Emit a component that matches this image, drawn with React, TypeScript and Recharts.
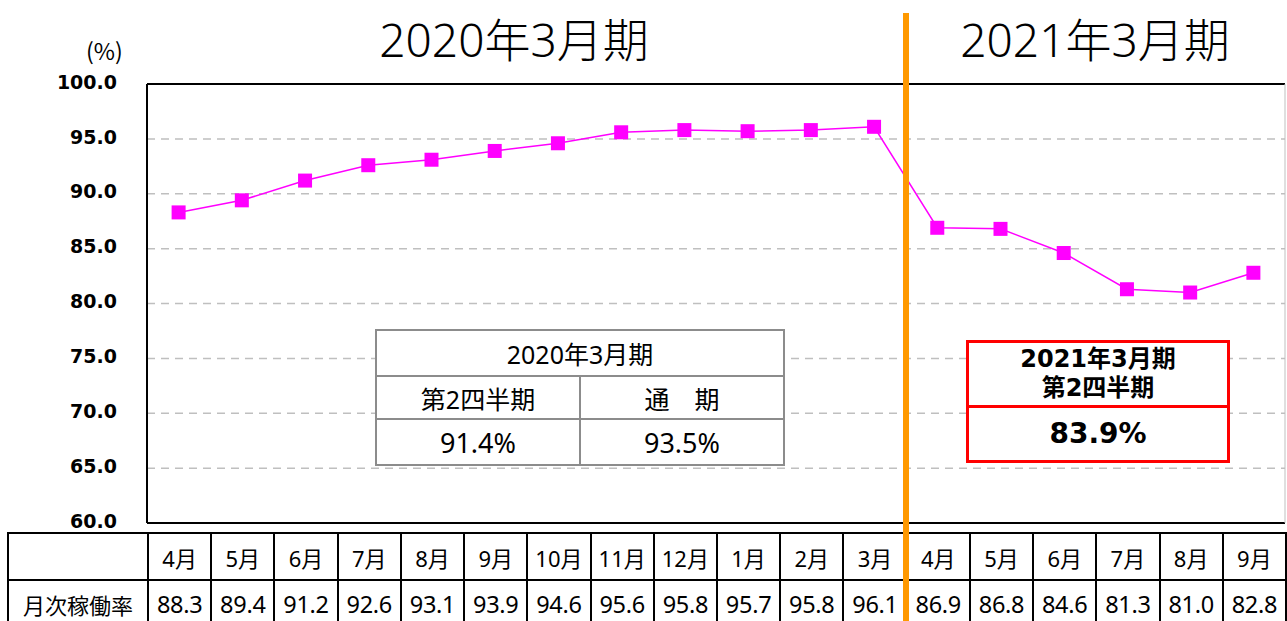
import { ComposedChart, Line, XAxis, YAxis, CartesianGrid, ReferenceLine } from "recharts";

const months = ["4月", "5月", "6月", "7月", "8月", "9月", "10月", "11月", "12月", "1月", "2月", "3月", "4月", "5月", "6月", "7月", "8月", "9月"];
const rates = [88.3, 89.4, 91.2, 92.6, 93.1, 93.9, 94.6, 95.6, 95.8, 95.7, 95.8, 96.1, 86.9, 86.8, 84.6, 81.3, 81.0, 82.8];
const yTicks = [60, 65, 70, 75, 80, 85, 90, 95, 100];
const periodTitles = ["2020年3月期", "2021年3月期"];
const prevHeads = ["第2四半期", "通　期"];
const prevValues = ["91.4%", "93.5%"];
const currTitle = ["2021年3月期", "第2四半期"];
const currValue = "83.9%";

const W = 1287;
const H = 621;
const PLOT_L = 147;
const PLOT_R = 1285;
const PLOT_T = 84;
const PLOT_B = 523;
const COL_W = (PLOT_R - PLOT_L) / months.length;
const FONT = "'Noto Sans', 'Noto Sans CJK JP', sans-serif";
const BOLD_FONT = "'DejaVu Sans', 'Noto Sans CJK JP', sans-serif";

const data = months.map((m, i) => ({ i, month: m, rate: rates[i] }));

function SquareDot(props: any) {
  const { cx, cy, index } = props;
  if (cx == null || cy == null) return null;
  return <rect key={index} x={cx - 7} y={cy - 7} width={14} height={14} fill="#FF00FF" />;
}

const cell: React.CSSProperties = {
  border: "2px solid #000",
  textAlign: "center",
  padding: 0,
  whiteSpace: "nowrap",
};

const greyCell: React.CSSProperties = {
  border: "2px solid #8c8c8c",
  textAlign: "center",
  padding: 0,
};

export default function App() {
  return (
    <div style={{ position: "absolute", left: 0, top: 0, width: W, height: H, overflow: "hidden", background: "#fff" }}>
      <ComposedChart width={W} height={H} data={data} margin={{ top: PLOT_T, right: W - PLOT_R, bottom: H - PLOT_B, left: PLOT_L - 60 }}>
        <CartesianGrid vertical={false} stroke="#BFBFBF" strokeWidth={1.5} strokeDasharray="8 6" />
        <XAxis dataKey="i" type="number" domain={[-0.5, months.length - 0.5]} hide />
        <YAxis
          domain={[60, 100]}
          ticks={yTicks}
          width={60}
          tickSize={0}
          tickMargin={30}
          tickLine={false}
          axisLine={{ stroke: "#000", strokeWidth: 2 }}
          tickFormatter={(v: number) => v.toFixed(1)}
          tick={{ fill: "#000", fontSize: 19, fontWeight: "bold", fontFamily: BOLD_FONT, dy: -2 }}
          interval={0}
        />
        <ReferenceLine y={100} stroke="#000" strokeWidth={2} />
        <ReferenceLine y={60} stroke="#000" strokeWidth={2} />
        <ReferenceLine x={months.length - 0.5} stroke="#BFBFBF" strokeWidth={1} />
        <Line
          dataKey="rate"
          stroke="#FF00FF"
          strokeWidth={1.5}
          dot={<SquareDot />}
          activeDot={false}
          isAnimationActive={false}
        />
      </ComposedChart>

      {/* unit + period titles */}
      <div style={{ position: "absolute", left: 86, top: 33, fontFamily: "'Noto Sans CJK JP', sans-serif", fontSize: 23 }}>(%)</div>
      <div style={{ position: "absolute", left: 514 - 200, width: 400, top: 4, textAlign: "center", fontFamily: FONT, fontSize: 46, fontWeight: 300 }}>
        {periodTitles[0]}
      </div>
      <div style={{ position: "absolute", left: 1095 - 200, width: 400, top: 4, textAlign: "center", fontFamily: FONT, fontSize: 46, fontWeight: 300 }}>
        {periodTitles[1]}
      </div>

      {/* 2020 summary box */}
      <table
        style={{
          position: "absolute",
          left: 375,
          top: 329,
          width: 410,
          borderCollapse: "collapse",
          tableLayout: "fixed",
          fontFamily: FONT,
          fontSize: 25,
          background: "#fff",
        }}
      >
        <tbody>
          <tr style={{ height: 46 }}>
            <td style={greyCell} colSpan={2}>{periodTitles[0]}</td>
          </tr>
          <tr style={{ height: 43 }}>
            {prevHeads.map((h) => (
              <td key={h} style={greyCell}>{h}</td>
            ))}
          </tr>
          <tr style={{ height: 46 }}>
            {prevValues.map((v) => (
              <td key={v} style={{ ...greyCell, fontSize: 27 }}>{v}</td>
            ))}
          </tr>
        </tbody>
      </table>

      {/* 2021 Q2 box */}
      <div
        style={{
          position: "absolute",
          left: 966,
          top: 340,
          width: 264,
          height: 123,
          boxSizing: "border-box",
          border: "3px solid #FF0000",
          background: "#fff",
          fontFamily: BOLD_FONT,
          fontWeight: "bold",
          textAlign: "center",
        }}
      >
        <div style={{ height: 65, boxSizing: "border-box", borderBottom: "3px solid #FF0000", fontSize: 24, lineHeight: "29px", paddingTop: 2 }}>
          {currTitle[0]}
          <br />
          {currTitle[1]}
        </div>
        <div style={{ fontSize: 28, lineHeight: "52px" }}>{currValue}</div>
      </div>

      {/* data table */}
      <table
        style={{
          position: "absolute",
          left: 7,
          top: 532,
          width: PLOT_R - 7 + 2,
          borderCollapse: "collapse",
          tableLayout: "fixed",
          fontFamily: FONT,
          fontSize: 22,
        }}
      >
        <colgroup>
          <col style={{ width: PLOT_L - 7 }} />
          {months.map((_, i) => (
            <col key={i} style={{ width: COL_W }} />
          ))}
        </colgroup>
        <tbody>
          <tr style={{ height: 47 }}>
            <td style={cell}></td>
            {months.map((m, i) => (
              <td key={i} style={cell}>{m}</td>
            ))}
          </tr>
          <tr style={{ height: 48 }}>
            <td style={cell}>月次稼働率</td>
            {rates.map((r, i) => (
              <td key={i} style={{ ...cell, fontSize: 23.5, letterSpacing: -0.3 }}>{r.toFixed(1)}</td>
            ))}
          </tr>
        </tbody>
      </table>

      {/* fiscal year divider */}
      <div style={{ position: "absolute", left: PLOT_L + 12 * COL_W - 3, top: 13, width: 6, height: H - 13, background: "#FF9900" }} />
    </div>
  );
}
